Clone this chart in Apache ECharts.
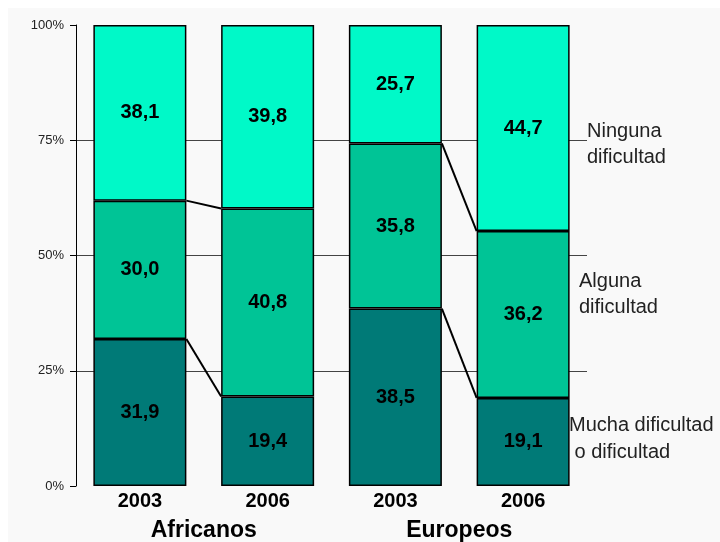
<!DOCTYPE html>
<html>
<head>
<meta charset="utf-8">
<script src="https://cdn.jsdelivr.net/npm/echarts@6/dist/echarts.min.js"></script>
<style>
  html, body { margin: 0; padding: 0; background: #fff; }
  #main { width: 720px; height: 542px; }
</style>
</head>
<body>
<div id="main"></div>
<script>
// datos
var years = ['2003', '2006', '2003', '2006'];
var groups = ['Africanos', 'Europeos'];
var mucha = [31.9, 19.4, 38.5, 19.1];     // Mucha dificultad o dificultad
var alguna = [30.0, 40.8, 35.8, 36.2];    // Alguna dificultad
var ninguna = [38.1, 39.8, 25.7, 44.7];   // Ninguna dificultad
var yTicks = [0, 25, 50, 75, 100];

var BAR_W = 93;
var FONT = "'Liberation Sans', Arial, sans-serif";

// lineas que unen 2003 con 2006 dentro de cada grupo
function get_connectors() {
    var res = [];
    for (var g = 0; g < years.length; g += 2) {
        res.push([g, mucha[g], mucha[g + 1]]);
        res.push([g, mucha[g] + alguna[g], mucha[g + 1] + alguna[g + 1]]);
    }
    return res;
}

function barSeries(name, data, color) {
    return {
        name: name,
        type: 'bar',
        stack: 'total',
        barWidth: BAR_W,
        data: data,
        itemStyle: { color: color, borderColor: '#000', borderWidth: 1.5 },
        label: {
            show: true,
            position: 'inside',
            color: '#000',
            fontFamily: FONT,
            fontWeight: 'bold',
            fontSize: 20,
            formatter: function (p) { return p.value.toFixed(1).replace('.', ','); }
        }
    };
}

var myChart = echarts.init(document.getElementById('main'));

var option = {
    backgroundColor: '#ffffff',
    animation: false,
    grid: { left: 76, right: 133, top: 25, bottom: 55 },
    graphic: [
        { type: 'rect', z: -10, shape: { x: 8, y: 8, width: 712, height: 534 }, style: { fill: '#f9f9f9' } },
        { type: 'text', left: 587, top: 118, style: { text: 'Ninguna\ndificultad', font: '20px ' + FONT, fill: '#222', lineHeight: 26 } },
        { type: 'text', left: 579, top: 268, style: { text: 'Alguna\ndificultad', font: '20px ' + FONT, fill: '#222', lineHeight: 26 } },
        { type: 'text', left: 569, top: 412, style: { text: 'Mucha dificultad\n o dificultad', font: '20px ' + FONT, fill: '#222', lineHeight: 27 } }
    ],
    xAxis: [
        {
            type: 'category',
            data: years,
            axisLine: { show: false },
            axisTick: { show: false },
            axisLabel: { color: '#000', fontFamily: FONT, fontWeight: 'bold', fontSize: 20, margin: 5 }
        },
        {
            type: 'category',
            position: 'bottom',
            data: groups,
            axisLine: { show: false },
            axisTick: { show: false },
            axisLabel: { color: '#000', fontFamily: FONT, fontWeight: 'bold', fontSize: 23, margin: 33 }
        }
    ],
    yAxis: {
        type: 'value',
        min: yTicks[0],
        max: yTicks[yTicks.length - 1],
        interval: 25,
        axisLine: { show: true, lineStyle: { color: '#000', width: 1 } },
        axisTick: { show: true, inside: false, length: 6, lineStyle: { color: '#000' } },
        axisLabel: { color: '#222', fontFamily: FONT, fontSize: 13, margin: 12, formatter: '{value}%' },
        splitLine: { show: true, showMinLine: false, showMaxLine: false, lineStyle: { color: '#444', width: 1 } }
    },
    series: [
        barSeries('Mucha dificultad o dificultad', mucha, '#007a77'),
        barSeries('Alguna dificultad', alguna, '#00c496'),
        barSeries('Ninguna dificultad', ninguna, '#00f9c8'),
        {
            type: 'custom',
            silent: true,
            z: 5,
            data: get_connectors(),
            renderItem: function (params, api) {
                var p1 = api.coord([api.value(0), api.value(1)]);
                var p2 = api.coord([api.value(0) + 1, api.value(2)]);
                return {
                    type: 'line',
                    shape: { x1: p1[0] + BAR_W / 2, y1: p1[1], x2: p2[0] - BAR_W / 2, y2: p2[1] },
                    style: { stroke: '#000', lineWidth: 2 }
                };
            }
        }
    ]
};

myChart.setOption(option);
</script>
</body>
</html>
